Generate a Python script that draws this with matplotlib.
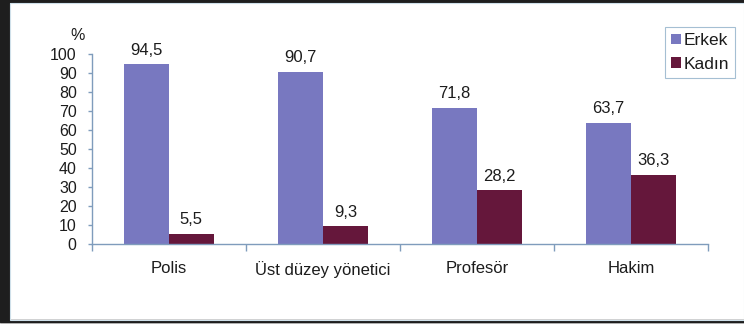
import numpy as np
import matplotlib.pyplot as plt
from matplotlib.patches import Rectangle

plt.rcParams['font.family'] = ['Liberation Sans', 'DejaVu Sans']

categories = ['Polis', 'Üst düzey yönetici', 'Profesör', 'Hakim']
erkek = [94.5, 90.7, 71.8, 63.7]
kadin = [5.5, 9.3, 28.2, 36.3]
yticks = [0, 10, 20, 30, 40, 50, 60, 70, 80, 90, 100]

erkek_color = '#7878c0'
kadin_color = '#65173b'
axis_color = '#7f9cbc'
text_color = '#1c1c1c'

fig = plt.figure(figsize=(7.44, 3.24), dpi=100)
fig.patch.set_facecolor('white')

# dark frame of the original screenshot
W, H = 744.0, 324.0
fig.patches.append(Rectangle((0, 0), 9 / W, 1, transform=fig.transFigure,
                             color='#1e1e1e', zorder=0))
fig.patches.append(Rectangle((0, 1 - 2 / H), 1, 2 / H, transform=fig.transFigure,
                             color='#1e1e1e', zorder=0))
fig.patches.append(Rectangle((0, 0), 1, 2 / H, transform=fig.transFigure,
                             color='#d4d4d4', zorder=0))
fig.patches.append(Rectangle((0, 2 / H), 1, 2 / H, transform=fig.transFigure,
                             color='#1e1e1e', zorder=0))
fig.patches.append(Rectangle((10 / W, 4.5 / H), 1 - 10.5 / W, 1 - 7.5 / H,
                             transform=fig.transFigure, fill=False,
                             edgecolor='#cfe0ea', linewidth=0.8, zorder=0))

ax = fig.add_axes([92 / W, (H - 244) / H, 616 / W, 190 / H])
ax.set_facecolor('none')

x = np.arange(len(categories))
w = 0.29
b1 = ax.bar(x - w / 2, erkek, w, color=erkek_color, label='Erkek', zorder=2)
b2 = ax.bar(x + w / 2, kadin, w, color=kadin_color, label='Kadın', zorder=2)

for bars, vals in [(b1, erkek), (b2, kadin)]:
    for r, v in zip(bars, vals):
        ax.annotate(f'{v:.1f}'.replace('.', ','),
                    xy=(r.get_x() + r.get_width() / 2, v),
                    xytext=(0, 7), textcoords='offset points',
                    ha='center', va='baseline', fontsize=12, color=text_color)

ax.set_xlim(-0.5, len(categories) - 0.5)
ax.set_ylim(0, 100)
ax.set_yticks(yticks)
ax.set_xticks(x)
ax.set_xticklabels(categories)
ax.set_xticks(np.arange(len(categories) + 1) - 0.5, minor=True)

for s in ['top', 'right']:
    ax.spines[s].set_visible(False)
for s in ['left', 'bottom']:
    ax.spines[s].set_color(axis_color)
    ax.spines[s].set_linewidth(1.0)

ax.tick_params(axis='y', direction='out', length=3, width=1, color=axis_color,
               pad=8, labelsize=11.5, labelcolor=text_color)
ax.tick_params(axis='x', which='major', length=0, pad=12,
               labelsize=12, labelcolor=text_color)
ax.tick_params(axis='x', which='minor', direction='out', length=5, width=1,
               color=axis_color)

ax.text(-0.011, 1.095, '%', transform=ax.transAxes, ha='right', va='center',
        fontsize=11.5, color=text_color)

leg = fig.legend(handles=[b1, b2], loc='upper right',
                 bbox_to_anchor=(735 / W, 1 - 27 / H), fontsize=12.5,
                 fancybox=False, handlelength=0.55, handleheight=0.55,
                 handletextpad=0.15, borderpad=0.35, labelspacing=0.5,
                 borderaxespad=0)
leg.get_frame().set_edgecolor('#8fb0c8')
leg.get_frame().set_linewidth(0.8)
for t in leg.get_texts():
    t.set_color(text_color)

fig.savefig('out.png', dpi=100)
